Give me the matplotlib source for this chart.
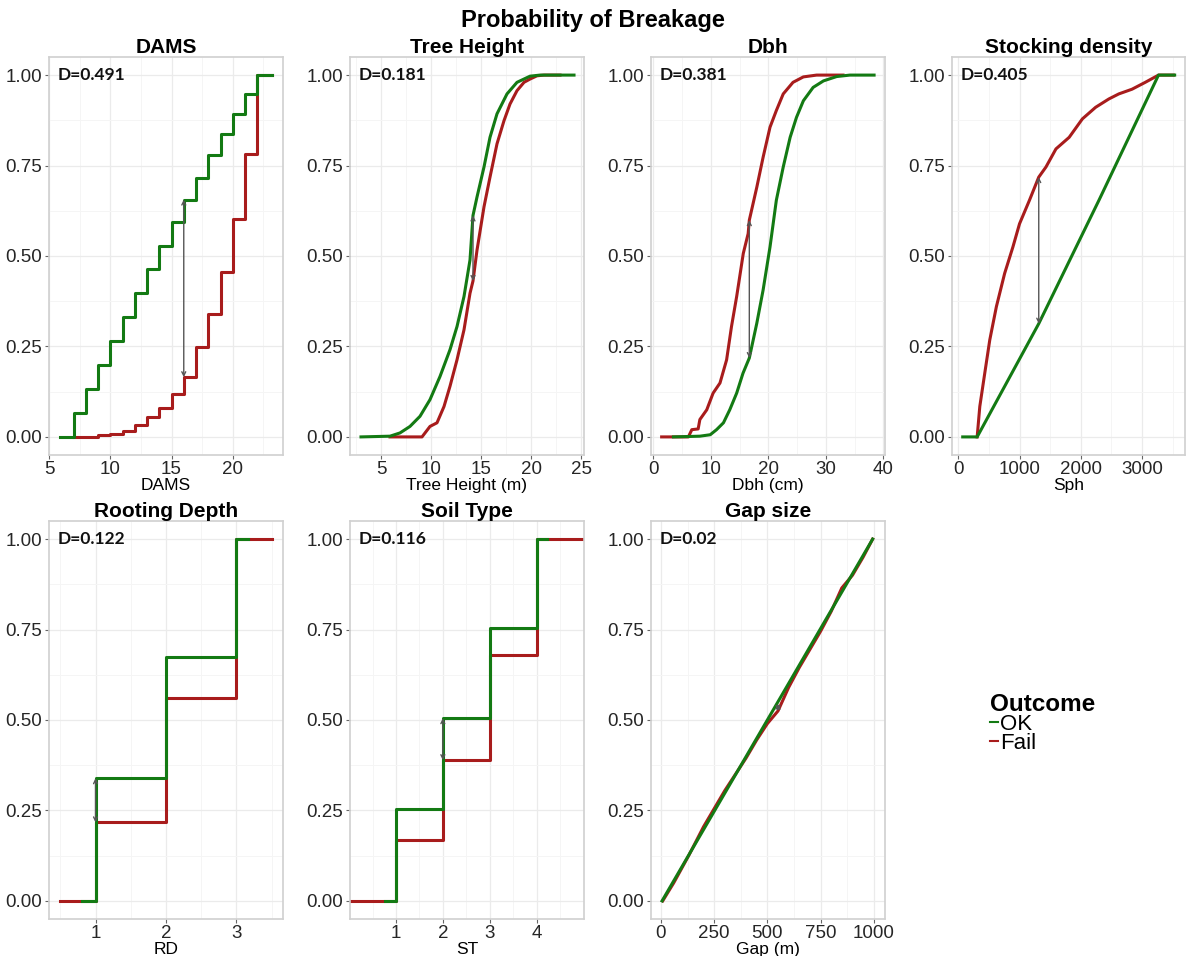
"""ECDF comparison of OK vs Fail trees for each predictor (KS distance shown)."""

import matplotlib
matplotlib.use("Agg")
import matplotlib.pyplot as plt
import matplotlib.transforms as mtransforms
from matplotlib.lines import Line2D
from matplotlib.ticker import AutoMinorLocator, FixedLocator, FuncFormatter

plt.rcParams["font.family"] = ["Liberation Sans", "DejaVu Sans"]

GREEN = "#137a13"
RED = "#a81c1c"

# ---- DAMS (step ECDF) ----
dams_ok_x = [5.9, 7, 8, 9, 10, 11, 12, 13, 14, 15, 16, 17, 18, 19, 20, 21, 22, 23.2]
dams_ok_y = [0, 0.066, 0.133, 0.200, 0.266, 0.332, 0.399, 0.465, 0.527, 0.593,
             0.656, 0.716, 0.778, 0.837, 0.893, 0.947, 1.0, 1.0]
dams_fail_x = [7, 9, 10, 11, 12, 13, 14, 15, 16, 17, 18, 19, 20, 21, 22, 23.2]
dams_fail_y = [0, 0.0055, 0.008, 0.0165, 0.032, 0.054, 0.080, 0.119, 0.165,
               0.248, 0.340, 0.455, 0.603, 0.781, 1.0, 1.0]

# ---- Tree height (m) ----
th_ok_x = [3.0, 5.9, 6.9, 7.9, 8.9, 9.9, 10.9, 11.9, 12.6, 13.3, 13.9, 14.2,
           14.6, 15.3, 15.9, 16.6, 17.6, 18.6, 19.9, 20.9, 24.3]
th_ok_y = [0, 0.002, 0.011, 0.029, 0.057, 0.103, 0.167, 0.241, 0.305, 0.388,
           0.489, 0.612, 0.663, 0.746, 0.828, 0.893, 0.948, 0.980, 0.997, 1.0, 1.0]
th_fail_x = [5.9, 9.1, 9.9, 10.6, 11.3, 11.9, 12.6, 13.3, 13.9, 14.2, 14.6,
             15.3, 15.9, 16.6, 17.3, 17.9, 18.6, 19.3, 19.9, 20.6, 21.3, 22.9]
th_fail_y = [0, 0, 0.029, 0.039, 0.084, 0.140, 0.213, 0.296, 0.397, 0.431,
             0.516, 0.636, 0.718, 0.810, 0.874, 0.920, 0.957, 0.980, 0.989,
             0.998, 1.0, 1.0]

# ---- Dbh (cm) ----
dbh_ok_x = [3.5, 8.1, 9.9, 11.0, 12.2, 13.3, 14.5, 15.6, 16.7, 18.0, 19.1,
            20.3, 21.4, 22.6, 23.8, 24.9, 26.1, 27.8, 29.6, 31.9, 34.2, 38.4]
dbh_ok_y = [0, 0.002, 0.006, 0.020, 0.039, 0.075, 0.121, 0.176, 0.218, 0.314,
            0.406, 0.525, 0.654, 0.746, 0.828, 0.883, 0.929, 0.966, 0.984,
            0.996, 1.0, 1.0]
dbh_fail_x = [1.45, 6.1, 6.7, 7.8, 8.1, 9.3, 10.4, 11.6, 12.75, 13.6, 14.5,
              15.65, 16.5, 16.7, 18.0, 19.1, 20.3, 21.4, 22.6, 24.3, 26.1,
              28.4, 33.0]
dbh_fail_y = [0, 0, 0.020, 0.022, 0.048, 0.075, 0.121, 0.149, 0.213, 0.305,
              0.388, 0.507, 0.562, 0.599, 0.690, 0.773, 0.856, 0.902, 0.948,
              0.980, 0.995, 1.0, 1.0]

# ---- Stocking density (sph) ----
sph_ok_x = [72, 308, 1314, 2300, 3270, 3534]
sph_ok_y = [0, 0, 0.313, 0.655, 1.0, 1.0]
sph_fail_x = [308, 351, 432, 514, 622, 757, 892, 1000, 1162, 1314, 1432, 1595,
              1811, 2027, 2243, 2459, 2622, 2838, 3054, 3270, 3514]
sph_fail_y = [0, 0.084, 0.176, 0.268, 0.360, 0.452, 0.525, 0.589, 0.654, 0.718,
              0.746, 0.796, 0.828, 0.879, 0.911, 0.934, 0.948, 0.961, 0.980,
              1.0, 1.0]

# ---- Rooting depth (step) ----
rd_ok_x = [0.815, 1, 2, 3, 3.17]
rd_ok_y = [0, 0.339, 0.674, 1.0, 1.0]
rd_fail_x = [0.5, 1, 2, 3, 3.5]
rd_fail_y = [0, 0.217, 0.562, 1.0, 1.0]

# ---- Soil type (step) ----
st_ok_x = [0.76, 1, 2, 3, 4, 4.23]
st_ok_y = [0, 0.254, 0.505, 0.754, 1.0, 1.0]
st_fail_x = [0.035, 1, 2, 3, 4, 4.99]
st_fail_y = [0, 0.169, 0.389, 0.681, 1.0, 1.0]

# ---- Gap size (m) ----
gap_ok_x = [5, 995]
gap_ok_y = [0, 1.0]
gap_fail_x = [8, 60, 130, 200, 250, 300, 350, 400, 450, 500, 550, 600, 650,
              700, 750, 800, 850, 900, 950, 995]
gap_fail_y = [0, 0.05, 0.125, 0.205, 0.255, 0.305, 0.350, 0.395, 0.445, 0.490,
              0.525, 0.590, 0.645, 0.695, 0.745, 0.800, 0.865, 0.900, 0.950, 1.0]

# title, x label, D statistic, arrow x, arrow top/bottom, xlim, xticks, step?
panels = [
    ("DAMS", "DAMS", "D=0.491", 16, 0.656, 0.165, (5, 24.1), [5, 10, 15, 20],
     dams_ok_x, dams_ok_y, dams_fail_x, dams_fail_y, True),
    ("Tree Height", "Tree Height (m)", "D=0.181", 14.2, 0.612, 0.431,
     (1.9, 25.3), [5, 10, 15, 20, 25],
     th_ok_x, th_ok_y, th_fail_x, th_fail_y, False),
    ("Dbh", "Dbh (cm)", "D=0.381", 16.7, 0.599, 0.218, (-0.4, 40.3),
     [0, 10, 20, 30, 40], dbh_ok_x, dbh_ok_y, dbh_fail_x, dbh_fail_y, False),
    ("Stocking density", "Sph", "D=0.405", 1314, 0.718, 0.313, (-103, 3703),
     [0, 1000, 2000, 3000], sph_ok_x, sph_ok_y, sph_fail_x, sph_fail_y, False),
    ("Rooting Depth", "RD", "D=0.122", 1, 0.339, 0.217, (0.34, 3.66), [1, 2, 3],
     rd_ok_x, rd_ok_y, rd_fail_x, rd_fail_y, True),
    ("Soil Type", "ST", "D=0.116", 2, 0.505, 0.389, (0.02, 5.01), [1, 2, 3, 4],
     st_ok_x, st_ok_y, st_fail_x, st_fail_y, True),
    ("Gap size", "Gap (m)", "D=0.02", 550, 0.545, 0.525, (-47, 1053),
     [0, 250, 500, 750, 1000], gap_ok_x, gap_ok_y, gap_fail_x, gap_fail_y, False),
]

W, H = 1186, 956
fig = plt.figure(figsize=(W / 100, H / 100), dpi=100)

col_left = [49, 350, 651, 952]
col_w = [234, 234, 234, 233]
row_top = [57, 521]
row_h = 398

for i, p in enumerate(panels):
    (title, xlab, dlab, ax_x, a_top, a_bot, xlim, xticks,
     okx, oky, fx, fy, is_step) = p
    r, c = divmod(i, 4)
    ax = fig.add_axes([col_left[c] / W, 1 - (row_top[r] + row_h) / H,
                       col_w[c] / W, row_h / H])
    ax.set_xlim(*xlim)
    ax.set_ylim(-0.05, 1.05)
    ax.xaxis.set_major_locator(FixedLocator(xticks))
    ax.yaxis.set_major_locator(FixedLocator([0, 0.25, 0.5, 0.75, 1.0]))
    ax.yaxis.set_major_formatter(FuncFormatter(lambda v, _: f"{v:.2f}"))
    ax.xaxis.set_minor_locator(AutoMinorLocator(2))
    ax.yaxis.set_minor_locator(AutoMinorLocator(2))
    ax.grid(which="major", color="#ebebeb", lw=0.9)
    ax.grid(which="minor", color="#f5f5f5", lw=0.7)
    ax.set_axisbelow(True)
    for s in ax.spines.values():
        s.set_color("#d0d0d0")
        s.set_linewidth(1.2)
    ax.tick_params(which="major", length=3, width=0.8, color="#666666",
                   labelsize=13.5, labelcolor="#262626", pad=2)
    ax.tick_params(axis="x", which="major", pad=1)
    ax.tick_params(which="minor", length=0)

    if is_step:
        ax.step(fx, fy, where="post", color=RED, lw=2.2)
        ax.step(okx, oky, where="post", color=GREEN, lw=2.2)
    else:
        ax.plot(fx, fy, color=RED, lw=2.2)
        ax.plot(okx, oky, color=GREEN, lw=2.2)

    ax.annotate("", xy=(ax_x, a_top), xytext=(ax_x, a_bot),
                arrowprops=dict(arrowstyle="<->", color="#555555", lw=1.0,
                                mutation_scale=7, shrinkA=0, shrinkB=0))

    trans = mtransforms.blended_transform_factory(ax.transAxes, ax.transData)
    ax.text(0.038, 1.0, dlab, transform=trans, ha="left", va="center",
            family=["Lato", "DejaVu Sans"], fontweight="bold", fontsize=12.5,
            color="#111111")

    ax.set_title(title, fontsize=15, fontweight="bold", pad=3)
    ax.set_xlabel(xlab, fontsize=12.5, labelpad=0.5)

fig.text(593 / W, 1 - 20 / H, "Probability of Breakage", ha="center",
         va="center", fontsize=17, fontweight="bold")

handles = [Line2D([], [], color=GREEN, lw=1.5),
           Line2D([], [], color=RED, lw=1.5)]
leg = fig.legend(handles, ["OK", "Fail"], title="Outcome", loc="upper left",
                 bbox_to_anchor=(990 / W, 1 - 693 / H), frameon=False,
                 fontsize=16, handlelength=0.35, handletextpad=0.1,
                 labelspacing=-0.1, borderpad=0, borderaxespad=0)
leg.get_title().set_fontweight("bold")
leg.get_title().set_fontsize(17.5)
leg._legend_box.align = "left"

fig.savefig("out.png", dpi=100)
